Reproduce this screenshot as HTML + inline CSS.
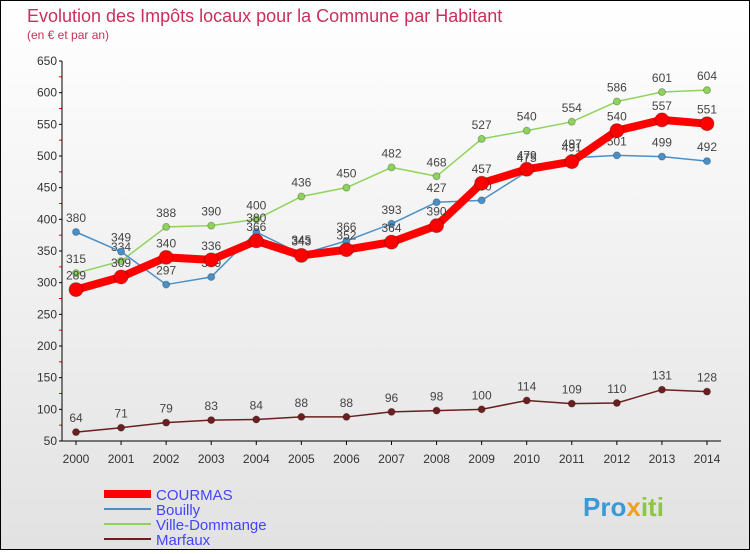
<!DOCTYPE html>
<html><head><meta charset="utf-8"><style>
body{margin:0;width:750px;height:550px;overflow:hidden;font-family:"Liberation Sans",sans-serif}
#wrap{position:relative;width:748px;height:548px;border:1px solid #000;background:linear-gradient(#fff,#e2e2e2)}
</style></head><body>
<div id="wrap">
<svg id="svg" width="748" height="548" xmlns="http://www.w3.org/2000/svg">
<text x="26" y="21" font-size="18" fill="#c8305a">Evolution des Impôts locaux pour la Commune par Habitant</text>
<text x="26" y="38" font-size="12" fill="#c8305a">(en € et par an)</text>
<g id="grid"></g><g id="axes"></g><g id="series"></g>
<g>
<line x1="103" y1="493" x2="150" y2="493" stroke="#f00" stroke-width="8"/>
<text x="155" y="499" font-size="15" fill="#44f">COURMAS</text>
<line x1="103" y1="508" x2="150" y2="508" stroke="#4a90c8" stroke-width="2"/>
<text x="155" y="514" font-size="15" fill="#44f">Bouilly</text>
<line x1="103" y1="523" x2="150" y2="523" stroke="#8ed45a" stroke-width="2"/>
<text x="155" y="529" font-size="15" fill="#44f">Ville-Dommange</text>
<line x1="103" y1="538" x2="150" y2="538" stroke="#6b1f1f" stroke-width="2"/>
<text x="155" y="544" font-size="15" fill="#44f">Marfaux</text>
</g>
<text x="582" y="515" font-size="26" font-weight="bold" fill="#3a9ad8">Pro<tspan fill="#f0a020">x</tspan><tspan fill="#8cc83c">iti</tspan></text>
</svg></div>
<script>
const years=[2000,2001,2002,2003,2004,2005,2006,2007,2008,2009,2010,2011,2012,2013,2014];
const courmas=[289,309,340,336,366,343,352,364,390,457,479,491,540,557,551];
const bouilly=[380,349,297,309,380,345,366,393,427,430,475,497,501,499,492];
const ville=[315,334,388,390,400,436,450,482,468,527,540,554,586,601,604];
const marfaux=[64,71,79,83,84,88,88,96,98,100,114,109,110,131,128];
const yTicks=[50,100,150,200,250,300,350,400,450,500,550,600,650];
const NS="http://www.w3.org/2000/svg";
const X=i=>75+i*(706-75)/(years.length-1);
const Y=v=>440-(v-50)*(380/600);
function mk(t,a,p){const e=document.createElementNS(NS,t);for(const k in a)e.setAttribute(k,a[k]);(p||document.getElementById('series')).appendChild(e);return e;}
const axes=document.getElementById('axes');
yTicks.forEach(v=>{
 const t=mk('text',{x:56,y:Y(v)+4,'font-size':12,fill:'#333','text-anchor':'end'},axes);
 t.textContent=v;
 
 
 const mj=mk('line',{x1:58,x2:61,y1:Y(v),y2:Y(v),stroke:'#000'},axes);
 
 
 if(v<650){
 const m=mk('line',{x1:58,x2:61,y1:Y(v+25),y2:Y(v+25),stroke:'#f00'},axes);
 
 
 }
});
const ax=mk('path',{d:'M61,60 V440 H720',fill:'none',stroke:'#000'},axes);


years.forEach((y,i)=>{
 const t=mk('text',{x:X(i),y:462,'font-size':12,fill:'#333','text-anchor':'middle'},axes);
 t.textContent=y;
 
 
 const m=mk('line',{x1:X(i),x2:X(i),y1:440,y2:444,stroke:'#000'},axes);
 
 
});
function series(name,data,color,w,r){
 const g=mk('g',{});
 
 
 const p=mk('polyline',{points:data.map((v,i)=>X(i)+','+Y(v)).join(' '),fill:'none',stroke:color,'stroke-width':w,'stroke-linejoin':'round'},g);
 
 
 data.forEach((v,i)=>{
  const c=mk('circle',{cx:X(i),cy:Y(v),r:r,fill:color,stroke:'rgba(0,0,0,0.25)'},g);
  
  
  const t=mk('text',{x:X(i),y:Y(v)-10,'font-size':12,fill:'#444','text-anchor':'middle'},g);
  t.textContent=v;
  
  
 });
}
series('marfaux',marfaux,'#6b1f1f',1.5,3.5);
series('ville-dommange',ville,'#8ed45a',1.5,3.5);
series('bouilly',bouilly,'#4a90c8',1.5,3.5);
series('courmas',courmas,'#f00',8,7);
</script>
</body></html>
